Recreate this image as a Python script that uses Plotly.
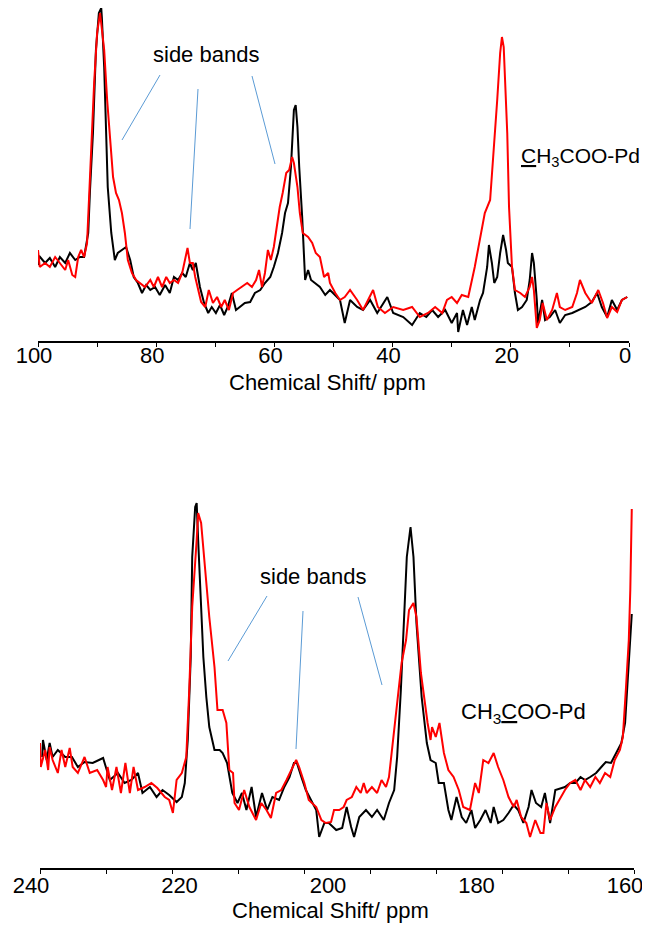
import plotly.graph_objects as go

# ---------------- data: top panel (0-100 ppm) ----------------
top_black_ppm = [100, 99.8, 98.8, 98.0, 97.1, 96.3, 95.4, 94.6, 93.7, 92.9, 92.2, 91.5, 91.2, 90.7, 90.2, 89.7, 89.3,
                 89.2, 88.8, 88.5, 88.2, 87.6, 87.0, 86.5, 85.8, 85.1, 84.4, 83.8, 83.1, 82.4, 81.7, 81.0, 80.2,
                 79.4, 78.5, 77.7, 77.0, 76.3, 75.6, 75.0, 74.3, 73.8, 73.3, 72.6, 71.9, 71.2, 70.6, 69.9, 69.2,
                 68.5, 67.9, 67.2, 66.5, 65.8, 65.0, 64.1, 63.3, 62.4, 61.6, 60.7, 60.1, 59.4, 58.7, 58.2, 57.7,
                 57.2, 56.7, 56.4, 56.1, 55.8, 55.3, 54.8, 54.3, 53.8, 53.1, 52.3, 51.4, 50.6, 48.9, 48.1, 47.2,
                 46.0, 45.0, 43.8, 42.6, 40.9, 39.9, 38.2, 36.7, 35.4, 34.3, 33.3, 32.3, 31.1, 30.0, 29.1, 28.9,
                 28.1, 27.4, 26.6, 26.1, 25.2, 24.7, 24.0, 23.7, 23.2, 22.8, 22.3, 21.8, 21.3, 20.8, 20.5, 19.8,
                 19.3, 18.8, 18.1, 17.3, 16.8, 16.4, 16.1, 15.6, 15.4, 14.7, 14.2, 13.4, 12.5, 11.7, 10.8, 9.6,
                 8.6, 7.4, 6.3, 5.4, 4.6, 3.7, 2.9, 2.0, 1.2, 0.3]
top_black = [76, 85, 78, 83, 74, 84, 78, 88, 81, 84, 84, 108, 151, 208, 291, 328, 333,
             324, 274, 208, 154, 108, 81, 88, 91, 94, 81, 64, 58, 48, 56, 51, 54,
             46, 56, 48, 64, 61, 68, 64, 78, 71, 78, 54, 38, 28, 34, 28, 36,
             26, 34, 48, 31, 34, 38, 39, 48, 51, 58, 64, 74, 88, 108, 128, 138,
             174, 231, 236, 214, 174, 124, 61, 71, 61, 58, 54, 46, 51, 41, 18, 41,
             34, 31, 41, 28, 44, 28, 24, 16, 28, 24, 31, 24, 31, 18, 28, 9,
             31, 16, 34, 21, 41, 48, 74, 96, 78, 58, 64, 88, 106, 91, 78, 74,
             48, 31, 34, 41, 61, 88, 78, 41, 18, 41, 21, 24, 31, 18, 26, 28,
             31, 34, 39, 48, 34, 24, 41, 31, 41, 44]

top_red_ppm = [100, 99.7, 98.8, 98.0, 97.1, 96.3, 95.4, 94.9, 94.2, 93.7, 93.2, 92.7, 92.2, 91.7, 91.4, 91.0, 90.5,
               90.0, 89.5, 89.2, 88.8, 88.3, 87.8, 87.3, 86.8, 86.3, 85.8, 85.3, 84.8, 84.1, 83.4, 82.7, 81.9,
               81.0, 80.4, 79.7, 79.0, 78.3, 77.7, 77.0, 76.3, 75.6, 75.1, 74.7, 74.3, 73.8, 73.4, 72.9, 72.4,
               71.7, 71.1, 70.4, 69.7, 69.0, 68.4, 67.7, 67.0, 66.3, 65.5, 64.6, 63.8, 63.1, 62.6, 62.1, 61.6,
               61.1, 60.6, 60.1, 59.6, 59.1, 58.6, 58.0, 57.5, 57.0, 56.7, 56.1, 55.7, 55.2, 54.3, 53.6, 53.0,
               52.3, 51.6, 50.9, 50.6, 49.7, 48.9, 48.1, 47.2, 46.0, 45.0, 44.2, 43.3, 42.5, 41.3, 39.9, 38.2,
               36.7, 35.4, 34.0, 32.8, 31.6, 30.8, 30.0, 29.1, 28.3, 27.2, 26.1, 25.2, 24.4, 23.5, 23.0, 22.3,
               21.8, 21.5, 21.2, 20.6, 20.3, 19.8, 19.3, 18.4, 17.6, 16.8, 16.4, 16.1, 15.6, 15.1, 14.6, 13.9,
               13.0, 12.2, 11.7, 10.8, 9.6, 8.8, 8.3, 7.4, 6.3, 5.2, 4.4, 3.7, 2.9, 2.0, 1.2, 0.3]
top_red = [91, 74, 78, 74, 84, 78, 71, 81, 66, 64, 84, 91, 84, 98, 134, 191, 258,
           308, 328, 314, 291, 241, 201, 164, 148, 141, 128, 108, 81, 68, 61, 58, 54,
           61, 54, 64, 54, 64, 58, 61, 58, 68, 81, 93, 78, 78, 64, 51, 39,
           34, 51, 38, 44, 34, 41, 31, 48, 51, 54, 58, 54, 61, 71, 54, 68,
           91, 81, 94, 114, 134, 148, 168, 171, 184, 178, 154, 128, 108, 104, 98, 88,
           84, 64, 68, 58, 48, 41, 44, 51, 41, 31, 41, 51, 34, 28, 34, 31,
           34, 24, 28, 34, 28, 41, 44, 38, 46, 44, 74, 101, 128, 141, 181, 241,
           288, 304, 294, 208, 134, 74, 51, 48, 44, 54, 64, 51, 13, 21, 38, 21,
           31, 48, 34, 31, 34, 48, 61, 48, 38, 51, 38, 23, 34, 29, 41, 44]

top_ticks = [100, 80, 60, 40, 20, 0]

# ---------------- data: bottom panel (160-240 ppm) ----------------
bot_black_ppm = [239.7, 239.6, 239.1, 238.7, 238.3, 237.6, 236.6, 235.7, 234.9, 234.0, 232.9, 231.5, 230.6, 229.5,
                 228.6, 227.7, 226.8, 226.2, 225.2, 224.3, 223.5, 222.6, 221.6, 220.9, 220.5, 220.1, 219.7, 219.5,
                 219.1, 218.9, 218.7, 218.3, 218.0, 217.6, 217.2, 216.5, 215.8, 215.4, 214.8, 214.1, 213.4, 212.8,
                 212.2, 211.5, 210.9, 210.1, 209.4, 208.7, 207.8, 207.1, 206.4, 205.8, 205.4, 204.8, 204.2, 203.5,
                 202.8, 202.4, 201.7, 201.1, 200.1, 199.3, 198.7, 198.1, 197.7, 197.0, 196.1, 195.3, 194.6, 193.7,
                 193.0, 192.3, 191.9, 191.4, 191.0, 190.6, 190.1, 189.7, 189.3, 188.6, 187.9, 187.4, 186.7, 186.3,
                 185.6, 185.0, 184.6, 183.9, 183.2, 182.6, 181.9, 181.4, 180.7, 180.0, 179.3, 178.9, 178.3, 177.6,
                 176.9, 176.2, 175.6, 174.9, 174.2, 173.8, 173.2, 172.5, 172.0, 171.3, 170.6, 169.9, 169.3, 168.6,
                 167.9, 167.2, 166.6, 165.9, 165.1, 164.4, 163.8, 163.1, 162.4, 161.7, 161.2, 160.9, 160.5, 160.3]
bot_black = [117, 134, 114, 131, 117, 124, 117, 117, 107, 112, 111, 116, 94, 101,
             91, 94, 101, 81, 87, 77, 84, 79, 72, 77, 91, 134, 217, 317,
             367, 371, 334, 267, 217, 177, 147, 124, 124, 121, 111, 81, 71, 81,
             64, 87, 57, 81, 64, 77, 74, 87, 97, 111, 111, 97, 84, 74,
             64, 37, 51, 51, 44, 46, 67, 47, 37, 57, 64, 57, 64, 54,
             71, 84, 117, 184, 251, 317, 347, 317, 251, 177, 131, 114, 111, 91,
             91, 64, 54, 77, 57, 51, 64, 46, 54, 64, 51, 67, 51, 54,
             61, 69, 64, 51, 67, 84, 71, 67, 81, 51, 84, 86, 87, 91,
             91, 97, 94, 97, 101, 107, 112, 111, 121, 131, 151, 191, 234, 260]

bot_red_ppm = [240.0, 239.9, 239.3, 238.9, 238.7, 238.3, 237.6, 237.1, 236.6, 236.0, 235.6, 234.9, 234.0, 233.3,
               232.3, 231.5, 231.1, 230.9, 230.3, 229.7, 229.1, 228.5, 227.9, 227.4, 226.8, 225.9, 225.0, 224.2,
               223.2, 222.6, 222.1, 221.6, 220.9, 220.3, 219.9, 219.5, 218.9, 218.7, 218.3, 217.9, 217.2, 216.5,
               216.1, 215.4, 214.9, 214.5, 214.0, 213.8, 213.2, 212.5, 211.8, 210.9, 210.2, 209.5, 208.9, 208.2,
               207.5, 206.8, 206.2, 205.5, 205.1, 204.4, 203.8, 202.8, 202.1, 201.5, 200.8, 200.4, 199.7, 199.1,
               198.7, 198.0, 197.4, 196.8, 196.4, 196.0, 195.3, 194.6, 194.0, 193.4, 193.0, 192.6, 192.1, 191.7,
               191.3, 190.7, 190.3, 189.7, 189.3, 188.7, 188.3, 187.8, 187.4, 187.2, 186.7, 186.2, 185.6, 185.0,
               184.3, 183.6, 183.0, 182.1, 181.4, 180.9, 180.3, 179.6, 178.9, 178.3, 177.6, 176.9, 176.2, 175.8,
               175.2, 174.5, 174.0, 173.3, 172.6, 172.2, 171.8, 171.3, 170.6, 169.9, 169.3, 168.6, 167.9, 167.2,
               166.6, 165.9, 165.2, 164.6, 163.9, 163.2, 162.6, 161.9, 161.5, 161.1, 160.7, 160.5, 160.3]
bot_red = [131, 107, 124, 104, 127, 114, 101, 124, 107, 126, 107, 101, 117, 101,
           104, 94, 87, 107, 84, 107, 81, 111, 81, 107, 84, 87, 91, 86,
           77, 74, 61, 94, 101, 117, 184, 267, 334, 361, 351, 317, 257, 207,
           164, 164, 151, 104, 101, 71, 64, 84, 67, 54, 71, 64, 56, 81,
           84, 94, 104, 114, 107, 91, 74, 67, 54, 51, 52, 64, 64, 67,
           74, 77, 87, 81, 91, 81, 87, 81, 94, 87, 97, 124, 151, 184,
           211, 234, 264, 271, 257, 201, 177, 151, 134, 147, 137, 151, 121, 104,
           97, 84, 67, 64, 91, 81, 114, 111, 121, 107, 94, 77, 67, 74,
           57, 51, 37, 54, 41, 41, 71, 54, 67, 77, 84, 91, 94, 84,
           94, 87, 97, 91, 101, 97, 114, 124, 137, 184, 234, 284, 365]

bot_ticks = [240, 220, 200, 180, 160]

# ---------------- figure ----------------
OFF = 8                       # page body margin in the browser
W, H = 650, 925
FONT = "Liberation Sans, Arial, sans-serif"
FS = 22


def px(x):
    return (x - OFF) / W


def py(y):
    return 1 - (y - OFF) / H


fig = go.Figure()
fig.add_trace(go.Scatter(x=top_black_ppm, y=top_black, mode="lines",
                         line=dict(color="black", width=2), xaxis="x", yaxis="y"))
fig.add_trace(go.Scatter(x=top_red_ppm, y=top_red, mode="lines",
                         line=dict(color="#ff0000", width=2), xaxis="x", yaxis="y"))
fig.add_trace(go.Scatter(x=bot_black_ppm, y=bot_black, mode="lines",
                         line=dict(color="black", width=2), xaxis="x2", yaxis="y2"))
fig.add_trace(go.Scatter(x=bot_red_ppm, y=bot_red, mode="lines",
                         line=dict(color="#ff0000", width=2), xaxis="x2", yaxis="y2"))

axis_common = dict(showgrid=False, zeroline=False, showline=True, linecolor="black", linewidth=1.5,
                   ticks="outside", ticklen=4, tickcolor="black", tickwidth=1, automargin=False,
                   ticklabeloverflow="allow",
                   tickfont=dict(family=FONT, size=FS, color="black"))

fig.update_layout(
    width=W, height=H, showlegend=False,
    paper_bgcolor="white", plot_bgcolor="white",
    margin=dict(l=0, r=0, t=0, b=0, autoexpand=False),
    xaxis=dict(axis_common, domain=[px(38), px(629)], range=[100, 0], anchor="y",
               tickvals=top_ticks, ticktext=[str(v) for v in top_ticks],
               ticklabelstandoff=-10, ticklabelshift=4,
               minor=dict(dtick=10, tick0=0, ticks="outside", ticklen=4, tickcolor="black")),
    yaxis=dict(domain=[py(341), py(8)], range=[0, 333], visible=False, anchor="x"),
    xaxis2=dict(axis_common, domain=[px(40), px(634)], range=[240, 160], anchor="y2",
                tickvals=bot_ticks, ticktext=[str(v) for v in bot_ticks], ticklen=0,
                ticklabelstandoff=-3, ticklabelshift=9,
                minor=dict(dtick=80 / 9, tick0=160, ticks="outside", ticklen=4, tickcolor="black")),
    yaxis2=dict(domain=[py(868), py(499)], range=[6, 375], visible=False, anchor="x2"),
)

lab_font = dict(family=FONT, size=FS, color="black")

# axis titles
fig.add_annotation(x=px(327), y=py(382), xref="paper", yref="paper", text="Chemical Shift/ ppm",
                   showarrow=False, font=lab_font, xanchor="center", yanchor="middle")
fig.add_annotation(x=px(330), y=py(910), xref="paper", yref="paper", text="Chemical Shift/ ppm",
                   showarrow=False, font=lab_font, xanchor="center", yanchor="middle")

# text labels
fig.add_annotation(x=px(206), y=py(54), xref="paper", yref="paper", text="side bands",
                   showarrow=False, font=lab_font, xanchor="center", yanchor="middle")
fig.add_annotation(x=px(519), y=py(157), xref="paper", yref="paper",
                   text="<u>C</u>H<sub>3</sub>COO-Pd",
                   showarrow=False, font=dict(family=FONT, size=21, color="black"),
                   xanchor="left", yanchor="middle")
fig.add_annotation(x=px(313), y=py(576), xref="paper", yref="paper", text="side bands",
                   showarrow=False, font=lab_font, xanchor="center", yanchor="middle")
fig.add_annotation(x=px(459), y=py(713), xref="paper", yref="paper",
                   text="CH<sub>3</sub><u>C</u>OO-Pd",
                   showarrow=False, font=lab_font, xanchor="left", yanchor="middle")

# leader lines
leaders = [((160, 75), (122, 140)), ((198, 89), (190, 229)), ((252, 76), (275, 164)),
           ((267, 596), (228, 661)), ((303, 611), (296, 749)), ((358, 597), (382, 685))]
for (x0, y0), (x1, y1) in leaders:
    fig.add_shape(type="line", xref="paper", yref="paper",
                  x0=px(x0), y0=py(y0), x1=px(x1), y1=py(y1),
                  line=dict(color="#5b9bd5", width=1))

fig.write_html("out.html")
